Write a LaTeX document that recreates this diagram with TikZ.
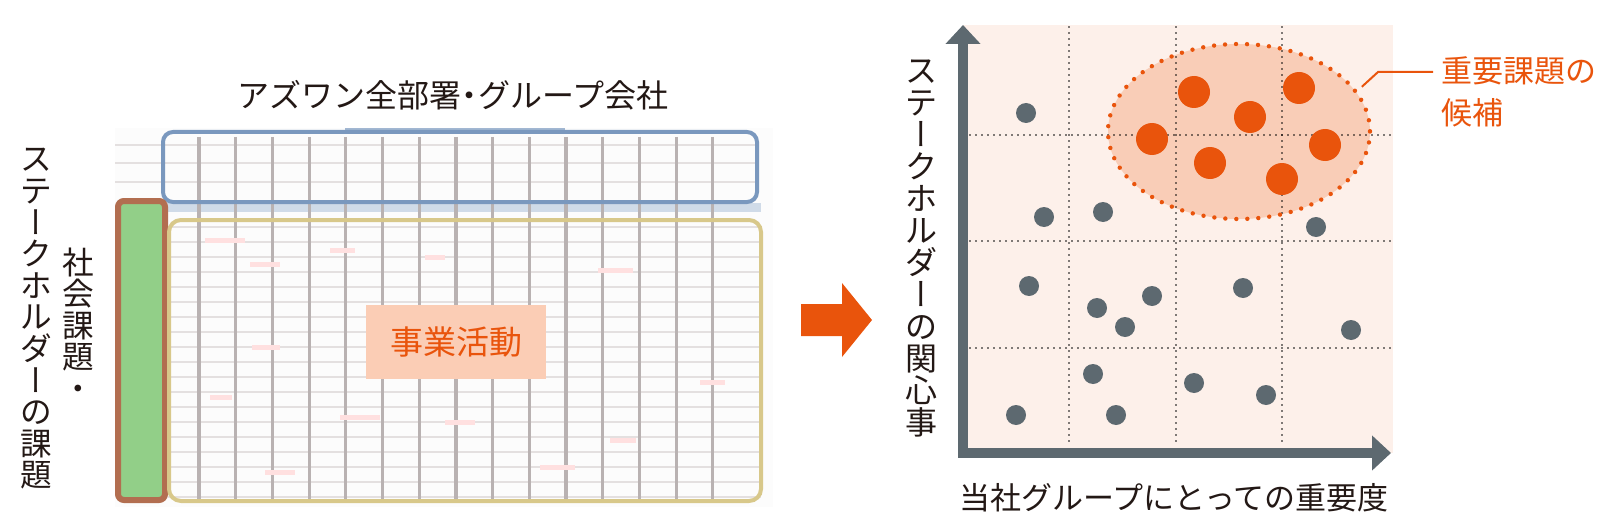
\documentclass[tikz,border=0pt]{standalone}
\usepackage{fontspec}
\newfontfamily\jp{Noto Sans CJK JP}
\newfontfamily\jpv[Script=CJK Ideographic, RawFeature=+vert]{Noto Sans CJK JP}
\usetikzlibrary{arrows.meta}
\usetikzlibrary{shapes.geometric}
\definecolor{myorange}{RGB}{233,84,12}
\definecolor{axisgray}{RGB}{93,105,112}
\definecolor{bgpink}{RGB}{253,240,234}
\definecolor{ellpink}{RGB}{249,205,183}
\definecolor{boxpink}{RGB}{251,205,181}
\definecolor{txtblack}{RGB}{35,24,21}
\definecolor{gridgray}{RGB}{185,178,178}
\definecolor{rowgray}{RGB}{228,224,224}
\definecolor{hdrblue}{RGB}{122,152,190}
\definecolor{colgreen}{RGB}{146,207,136}
\definecolor{colbrown}{RGB}{178,110,80}
\definecolor{bodytan}{RGB}{216,200,138}
\newcommand{\vchoon}{{\jpv ー}}
\newcommand{\halfdot}{\makebox[0.55em]{・}}

\begin{document}
\begin{tikzpicture}[x=0.5pt, y=-0.5pt,
  lbl/.style={font=\jp\fontsize{15.5pt}{21pt}\selectfont, text=txtblack, inner sep=0},
  vlbl/.style={font=\jp\fontsize{15.8pt}{15.8pt}\selectfont, text=txtblack, align=center, inner sep=0},
  gdot/.style={fill=axisgray},
  odot/.style={fill=myorange},
  dotline/.style={black, line width=0.9pt, line cap=round, dash pattern=on 0pt off 3pt}]
\useasboundingbox (0,0) rectangle (1611,524);

% spreadsheet
\fill[white!98!gray] (115,128) rectangle (773,507);
\foreach \y in {145,163,182} \draw[rowgray, line width=1pt] (115,\y) -- (757,\y);
\foreach \y in {227,242,...,497} \draw[rowgray, line width=1.2pt] (168,\y) -- (761,\y);
\fill[hdrblue!35] (163,203) rectangle (761,212);
\foreach \k in {0,...,14} \draw[gridgray, line width=1.6pt] ({199+36.7*\k},137) -- ({199+36.7*\k},500);
\foreach \x/\y/\w in {205/238/40, 250/262/30, 330/248/25, 425/255/20, 598/268/35, 252/345/28, 210/395/22, 340/415/40, 445/420/30, 610/438/26, 540/465/35, 700/380/25, 265/470/30}
  \fill[red!12] (\x,\y) rectangle ++(\w,5);
\fill[hdrblue!70] (345,128) rectangle (565,132);
\draw[hdrblue, line width=2pt, rounded corners=5pt] (163,132) rectangle (757,202);
\draw[colbrown, fill=colgreen, line width=3pt, rounded corners=3pt] (118,201) rectangle (165,500);
\draw[bodytan, line width=2pt, rounded corners=6pt] (169,220) rectangle (761,501);
\node[fill=boxpink, minimum width=90pt, minimum height=37pt,
  font=\jp\fontsize{16.5pt}{20pt}\selectfont, text=myorange] (biz) at (456,342) {事業活動};

\node[lbl, font=\jp\fontsize{16pt}{21pt}\selectfont] (dept) at (453,95) {アズワン全部署\halfdot グループ会社};
\node[vlbl] (col1) at (78,324) {社\\会\\課\\題\\・};
\node[vlbl] (col2) at (36,319) {ス\\テ\\\vchoon\\ク\\ホ\\ル\\ダ\\\vchoon\\の\\課\\題};

% arrow
\fill[myorange] (801,304) -- (842,304) -- (842,283) -- (872,320) -- (842,357) -- (842,336) -- (801,336) -- cycle;

% matrix
\fill[bgpink] (963,25) rectangle (1393,453);
\node[ellipse, fill=ellpink, minimum width=131pt, minimum height=87.5pt, inner sep=0, outer sep=4pt] (cand) at (1239,131.5) {};
\foreach \x in {1069,1176,1282} \draw[dotline] (\x,27) -- (\x,446);
\foreach \y in {135,241,348} \draw[dotline] (970,\y) -- (1392,\y);
\draw[myorange, line width=2.2pt, line cap=round, dash pattern=on 0pt off 5.5pt] (cand.center) ellipse [x radius=131, y radius=87.5];
\foreach \x/\y in {1026/113, 1044/217, 1103/212, 1316/227, 1029/286, 1097/308, 1152/296, 1125/327,
  1243/288, 1351/330, 1093/374, 1194/383, 1266/395, 1016/415, 1116/415}
  \fill[gdot] (\x,\y) circle[radius=5pt];
\foreach \x/\y in {1194/92, 1299/88, 1250/117, 1152/139, 1325/145, 1210/163, 1282/179}
  \fill[odot] (\x,\y) circle[radius=8pt];
\draw[axisgray, line width=5pt, {Triangle[length=9.5pt,width=17pt]}-{Triangle[length=9.5pt,width=17pt]}] (963,25) |- (1391,453);

\node[vlbl, font=\jp\fontsize{16pt}{16pt}\selectfont] (ylab) at (921,248.5) {ス\\テ\\\vchoon\\ク\\ホ\\ル\\ダ\\\vchoon\\の\\関\\心\\事};
\node[lbl] (xlab) at (1174,498) {当社グループにとっての重要度};
\node[lbl, text=myorange, align=left, anchor=west, inner xsep=4pt] (candlbl) at (1433,92) {重要課題の\\候補};
\coordinate (bend) at (1378,72);
\draw[myorange, line width=1pt] (cand.20) -- (bend) -- (bend -| candlbl.west);
\end{tikzpicture}
\end{document}
